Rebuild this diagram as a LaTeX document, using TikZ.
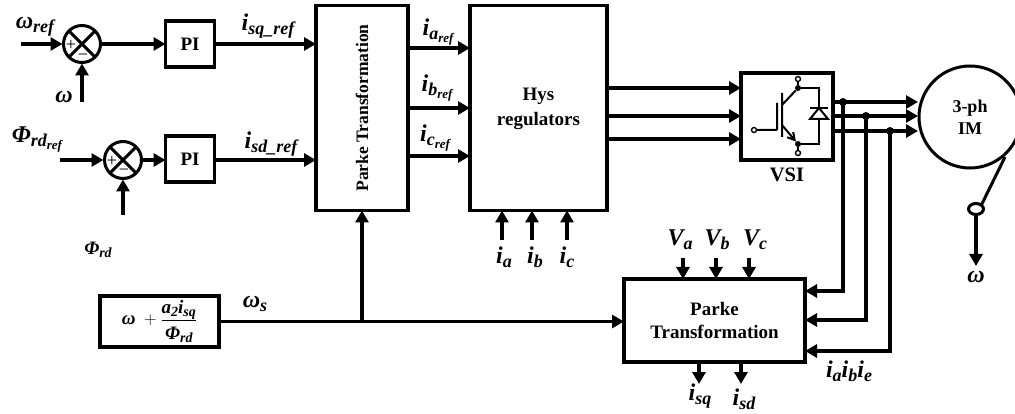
\documentclass[tikz,border=0pt]{standalone}
\usepackage{fontspec}
\setmainfont{Liberation Serif}
\usetikzlibrary{arrows.meta,shapes.geometric}
\newcommand\mfont{\fontsize{24}{24}\selectfont\bfseries\itshape}
\newcommand\sfont{\fontsize{18}{18}\selectfont\bfseries\itshape}
\newcommand\ssfont{\fontsize{13}{13}\selectfont\bfseries\itshape}
\newcommand\mv[2]{{\mfont #1}\raisebox{-4pt}{\sfont #2}}
\newcommand\mvv[3]{{\mfont #1}\raisebox{-4pt}{{\sfont #2}\raisebox{-3pt}{\ssfont #3}}}
\newcommand\mvsmall[2]{{\fontsize{19}{19}\selectfont\bfseries\itshape #1}\raisebox{-3pt}{\fontsize{14}{14}\selectfont\bfseries\itshape #2}}
\tikzset{
  arr/.style={line width=3.5pt,-{Triangle[length=12pt,width=13pt]}},
  box/.style={draw,line width=3.8pt,rectangle,inner sep=0pt,outer sep=0pt,align=center,font=\fontsize{19}{22}\selectfont\bfseries},
  summer/.style={draw,line width=3pt,circle,minimum size=37pt,inner sep=0pt,outer sep=1pt},
  dot/.style={fill,circle,minimum size=8pt,inner sep=0pt},
  sdot/.style={fill,circle,minimum size=6pt,inner sep=0pt},
  hdot/.style={draw,line width=1.4pt,circle,minimum size=5pt,inner sep=0pt,fill=white},
  lbl/.style={inner sep=0pt,outer sep=0pt},
  sign/.style={inner sep=0pt,font=\fontsize{18}{18}\selectfont},
  thin line/.style={line width=2pt}
}
\begin{document}
\begin{tikzpicture}[x=1pt,y=-1pt]
\useasboundingbox (0,0) rectangle (1015,414);
\fill[fill=white] (0,0) rectangle (1015,414);
% blocks
\node[summer] (s1) at (82,44) {};
\draw[line width=3pt] (s1.45)--(s1.225) (s1.135)--(s1.315);
\node[sign] (s1p) at (71,45) {+};
\node[sign] (s1m) at (83,57) {−};
\node[summer] (s2) at (123,160) {};
\draw[line width=3pt] (s2.45)--(s2.225) (s2.135)--(s2.315);
\node[sign] (s2p) at (112,161) {+};
\node[sign] (s2m) at (124,172) {−};
\node[box,minimum width=49pt,minimum height=46pt] (pi1) at (190,44) {PI};
\node[box,minimum width=49pt,minimum height=46pt] (pi2) at (190,159) {PI};
\node[box,minimum width=92pt,minimum height=205pt] (pk1) at (362,108) {};
\node[lbl,rotate=90,font=\fontsize{17.5}{20}\selectfont\bfseries] (pk1t) at (362,108) {Parke Transformation};
\node[box,minimum width=137pt,minimum height=205pt] (hys) at (538.5,108) {};
\node[lbl,align=center,font=\fontsize{19}{22}\selectfont\bfseries] (hyst) at (538.5,109) {Hys\\[3pt]regulators};
\node[box,minimum width=92pt,minimum height=87pt] (vsi) at (787,116.5) {};
\node[lbl,font=\fontsize{20.5}{20}\selectfont\bfseries] (vsit) at (787,175) {VSI};
\node[draw,line width=3pt,circle,minimum size=102pt,inner sep=0pt,outer sep=0pt,align=center,font=\fontsize{18}{22}\selectfont\bfseries] (im) at (970,117) {3-ph\\IM};
\node[box,minimum width=181pt,minimum height=83pt] (pk2) at (714.5,320.5) {Parke\\[2pt]Transformation};
\node[box,minimum width=119pt,minimum height=51pt] (fb) at (159.5,321.5) {$\mbox{\fontsize{19}{19}\selectfont\bfseries\itshape ω}\;+\frac{\mbox{\rule[-6pt]{0pt}{16pt}\mvsmall{a}{2}\mvsmall{i}{sq}}}{\mbox{\rule{0pt}{18pt}\mvsmall{Φ}{rd}}}$};
% VSI symbol
\node[hdot] (t1) at (798,79) {};
\node[sdot] (t2) at (798,88) {};
\node[sdot] (t3) at (798,144) {};
\node[hdot] (t4) at (798,153) {};
\node[hdot] (t5) at (754,130) {};
\coordinate (cc) at (782,105);
\coordinate (ce) at (782,125);
\coordinate (rt) at (819,88);
\coordinate (rb) at (819,144);
\coordinate (g1) at (777,103);
\coordinate (g2) at (777,130);
\coordinate (b1) at (782,93);
\coordinate (b2) at (782,137);
\draw[thin line] (t1)--(t2) (t3)--(t4);
\draw[thin line] (t2)--(cc) (g1)--(g2) (t5)--(g2) (b1)--(b2);
\draw[thin line,-{Straight Barb[length=7pt,width=8pt]}] (ce)--(t3);
\draw[thin line] (t2)--(rt)--(rb)--(t3);
\coordinate (d1) at (810,108);
\coordinate (d2) at (828,108);
\coordinate (d3) at (810,119);
\coordinate (d4) at (828,119);
\coordinate (d5) at (819,108);
\draw[thin line,fill=white] (d5)--(d3)--(d4)--cycle;
\draw[line width=2.2pt] (d1)--(d2);
% top-left connectors
\coordinate (w1) at (21,44);
\coordinate (w2) at (82,102);
\coordinate (w3) at (60,160);
\coordinate (w4) at (123,215);
\draw[arr] (w1)--(s1.west);
\draw[arr] (w2)--(s1.south);
\draw[arr] (s1.east)--(pi1.west);
\draw[arr] (pi1.east)--(pk1.west |- pi1.east);
\draw[arr] (w3)--(s2.west);
\draw[arr] (w4)--(s2.south);
\draw[arr] (s2.east)--(pi2.west |- s2.east);
\draw[arr] (pi2.east |- s2.east)--(pk1.west |- s2.east);
% Parke to Hys
\foreach \n/\yy in {a/48,b/108,c/156}{
  \coordinate (pa\n) at (pk1.east |- 0,\yy);
  \coordinate (ha\n) at (hys.west |- 0,\yy);
  \draw[arr] (pa\n)--(ha\n);
}
% measured currents into Hys
\foreach \n/\xx in {a/502,b/532,c/567}{
  \coordinate (ib\n) at (\xx,240);
  \coordinate (it\n) at (hys.south -| \xx,0);
  \draw[arr] (ib\n)--(it\n);
}
% Hys to VSI
\foreach \n/\yy in {a/88,b/116,c/139}{
  \coordinate (h\n) at (hys.east |- 0,\yy);
  \coordinate (v\n) at (vsi.west |- 0,\yy);
  \draw[arr] (h\n)--(v\n);
}
% VSI to motor
\coordinate (oa) at (vsi.east |- 0,102);
\coordinate (ob) at (vsi.east |- 0,116);
\coordinate (oc) at (vsi.east |- 0,131);
\coordinate (ma) at (918,102);
\coordinate (mb) at (918,116);
\coordinate (mc) at (918,131);
\draw[arr] (oa)--(ma);
\draw[arr] (ob)--(mb);
\draw[arr] (oc)--(mc);
\node[dot] (da) at (843,102) {};
\node[dot] (db) at (866,116) {};
\node[dot] (dc) at (890,131) {};
\coordinate (pa) at (pk2.east |- 0,291);
\coordinate (pb) at (pk2.east |- 0,320);
\coordinate (pc) at (pk2.east |- 0,351);
\draw[arr] (da.center)--(da.center |- pa)--(pa);
\draw[arr] (db.center)--(db.center |- pb)--(pb);
\draw[arr] (dc.center)--(dc.center |- pc)--(pc);
% motor shaft
\node[draw,line width=3pt,ellipse,minimum width=15pt,minimum height=11pt,inner sep=0pt,outer sep=0pt] (sh) at (976,209) {};
\coordinate (mo) at (1005,157);
\coordinate (we) at (976,266);
\draw[line width=3pt] (mo)--(sh.north east);
\draw[arr] (sh.south)--(we);
% Parke 2 stubs
\foreach \n/\xx in {a/683,b/716,c/749}{
  \coordinate (vt\n) at (\xx,258);
  \coordinate (vb\n) at (pk2.north -| \xx,0);
  \draw[arr] (vt\n)--(vb\n);
}
\foreach \n/\xx in {a/699,b/741}{
  \coordinate (ot\n) at (pk2.south -| \xx,0);
  \coordinate (oe\n) at (\xx,384);
  \draw[arr] (ot\n)--(oe\n);
}
% omega_s
\coordinate (br) at (pk1.south |- fb.east);
\draw[arr] (fb.east)--(pk2.west |- fb.east);
\draw[arr] (br)--(pk1.south);
% labels
\node[lbl] (l1) at (35,27) {\mv{ω}{ref}};
\node[lbl] (l2) at (64,97) {{\fontsize{24}{24}\selectfont\bfseries\itshape ω}};
\node[lbl] (l3) at (37,140) {\mvv{Φ}{rd}{ref}};
\node[lbl] (l4) at (98,250) {\mvsmall{Φ}{rd}};
\node[lbl] (l5) at (268,26) {\mv{i}{sq\_ref}};
\node[lbl] (l6) at (271,144) {\mv{i}{sd\_ref}};
\node[lbl] (l7) at (438,32) {\mvv{i}{a}{ref}};
\node[lbl] (l8) at (437,88) {\mvv{i}{b}{ref}};
\node[lbl] (l9) at (435,138) {\mvv{i}{c}{ref}};
\node[lbl] (l10) at (504,257) {\mv{i}{a}};
\node[lbl] (l11) at (535,257) {\mv{i}{b}};
\node[lbl] (l12) at (567,257) {\mv{i}{c}};
\node[lbl] (l13) at (680,240) {\mv{V}{a}};
\node[lbl] (l14) at (717,240) {\mv{V}{b}};
\node[lbl] (l15) at (755,240) {\mv{V}{c}};
\node[lbl] (l16) at (849,371) {\mv{i}{a}\mv{i}{b}\mv{i}{e}};
\node[lbl] (l17) at (700,396) {\mv{i}{sq}};
\node[lbl] (l18) at (744,399) {\mv{i}{sd}};
\node[lbl] (l19) at (255,304) {\mv{ω}{s}};
\node[lbl] (l20) at (976,277) {{\fontsize{24}{24}\selectfont\bfseries\itshape ω}};
\end{tikzpicture}
\end{document}
